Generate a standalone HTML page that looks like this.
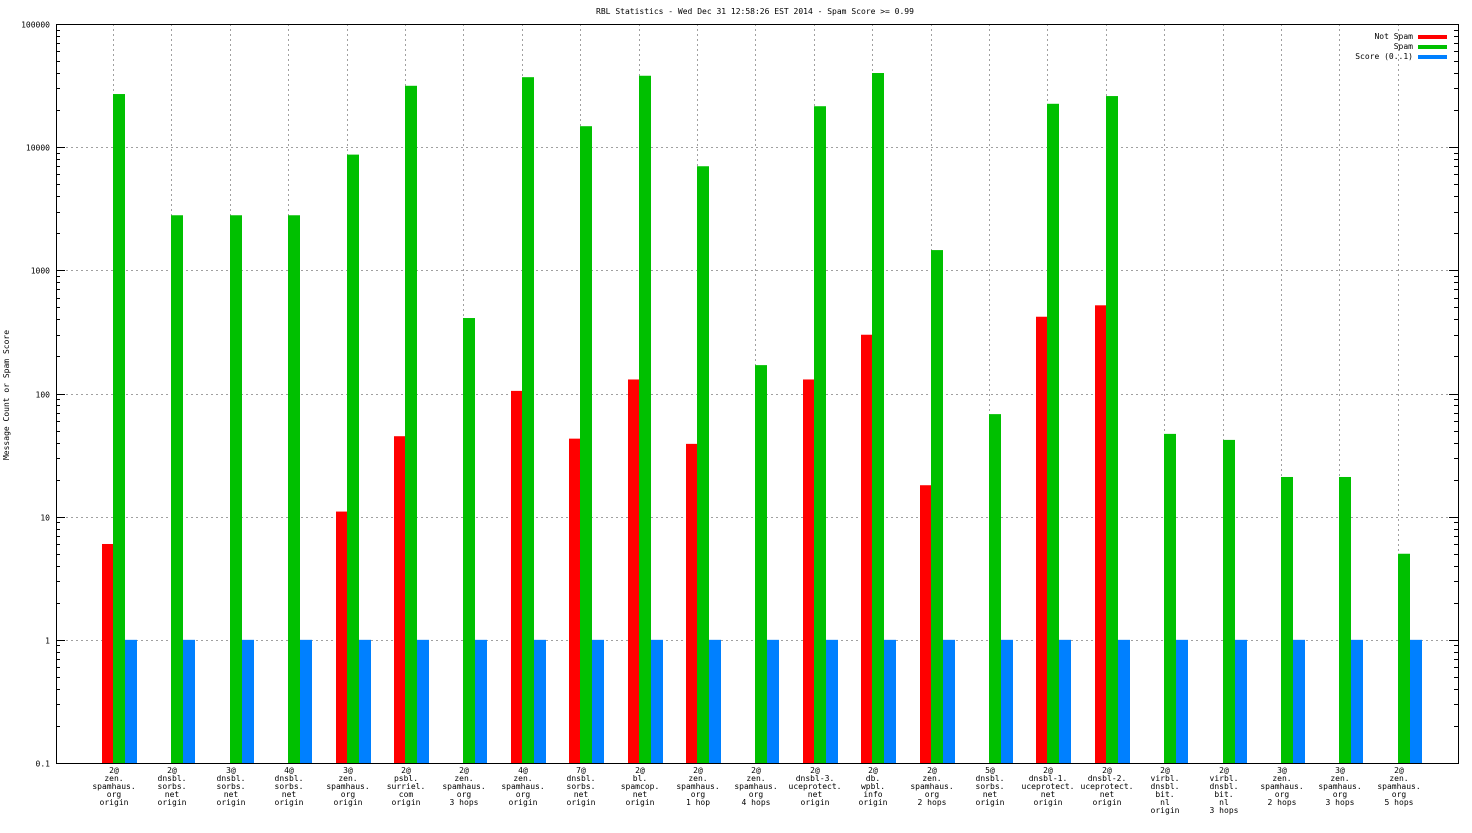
<!DOCTYPE html>
<html><head><meta charset="utf-8"><style>
html,body{margin:0;padding:0;background:#fff}
svg text{font-family:"DejaVu Sans Mono","Liberation Mono",monospace;font-size:8px;fill:#000}
</style></head><body>
<svg id="chart" width="1472" height="828" xmlns="http://www.w3.org/2000/svg">
<text x="755" y="14" text-anchor="middle">RBL Statistics - Wed Dec 31 12:58:26 EST 2014 - Spam Score &gt;= 0.99</text>
<text transform="translate(9,395) rotate(-90)" text-anchor="middle">Message Count or Spam Score</text>
<g id="grid"></g><g id="bars"></g><g id="axes"></g>
<g>
<text x="1413" y="39" text-anchor="end">Not Spam</text><rect x="1418" y="35" width="29" height="4" fill="#ff0000"/>
<text x="1413" y="49" text-anchor="end">Spam</text><rect x="1418" y="45" width="29" height="4" fill="#00c000"/>
<text x="1413" y="59" text-anchor="end">Score (0..1)</text><rect x="1418" y="55" width="29" height="4" fill="#0080ff"/>
</g>
</svg>
<script>
const categories=[
["2@","zen.","spamhaus.","org","origin"],["2@","dnsbl.","sorbs.","net","origin"],["3@","dnsbl.","sorbs.","net","origin"],["4@","dnsbl.","sorbs.","net","origin"],["3@","zen.","spamhaus.","org","origin"],["2@","psbl.","surriel.","com","origin"],["2@","zen.","spamhaus.","org","3 hops"],["4@","zen.","spamhaus.","org","origin"],["7@","dnsbl.","sorbs.","net","origin"],["2@","bl.","spamcop.","net","origin"],["2@","zen.","spamhaus.","org","1 hop"],["2@","zen.","spamhaus.","org","4 hops"],["2@","dnsbl-3.","uceprotect.","net","origin"],["2@","db.","wpbl.","info","origin"],["2@","zen.","spamhaus.","org","2 hops"],["5@","dnsbl.","sorbs.","net","origin"],["2@","dnsbl-1.","uceprotect.","net","origin"],["2@","dnsbl-2.","uceprotect.","net","origin"],["2@","virbl.","dnsbl.","bit.","nl","origin"],["2@","virbl.","dnsbl.","bit.","nl","3 hops"],["3@","zen.","spamhaus.","org","2 hops"],["3@","zen.","spamhaus.","org","3 hops"],["2@","zen.","spamhaus.","org","5 hops"]];
const notSpam=[6,0,0,0,11,45,0,105,43,130,39,0,130,300,18,0,420,520,0,0,0,0,0];
const spam=[27000,2800,2800,2800,8700,31500,410,37000,14800,38000,7000,170,21500,40000,1460,68,22500,26000,47,42,21,21,5];
const score=[1,1,1,1,1,1,1,1,1,1,1,1,1,1,1,1,1,1,1,1,1,1,1];
const yTicks=[0.1,1,10,100,1000,10000,100000];
const yTickLabels=["0.1","1","10","100","1000","10000","100000"];
const NS="http://www.w3.org/2000/svg";
const L=56,R=1458,T=24,B=763;
const yMin=-1,yMax=5;
function y(v){return B-(Math.log10(v)-yMin)/(yMax-yMin)*(B-T);}
function x(i){return 113+i*58.4;}
function mk(tag,attrs,parent){const e=document.createElementNS(NS,tag);for(const k in attrs)e.setAttribute(k,attrs[k]);parent.appendChild(e);return e;}
const grid=document.getElementById('grid'),bars=document.getElementById('bars'),axes=document.getElementById('axes');
yTicks.forEach((t,k)=>{
  const yy=Math.round(y(t))+0.5;
  if(t>0.1&&t<100000){const g=mk('line',{x1:L,x2:R,y1:yy,y2:yy,stroke:'#a0a0a0','stroke-dasharray':'2,3'},grid);
  
  }
  const tk=mk('line',{x1:L,x2:L+9,y1:yy,y2:yy,stroke:'#000'},axes);
  
  
  const tr=mk('line',{x1:R-9,x2:R,y1:yy,y2:yy,stroke:'#000'},axes);
  
  
  const lb=mk('text',{x:L-6,y:yy+3,'text-anchor':'end'},axes);lb.textContent=yTickLabels[k];
  
  
  if(t<100000){for(let m=2;m<10;m++){const my=Math.round(y(t*m))+0.5;
    const mt=mk('line',{x1:L,x2:L+4,y1:my,y2:my,stroke:'#000'},axes);
    
    
    const mr=mk('line',{x1:R-4,x2:R,y1:my,y2:my,stroke:'#000'},axes);
    
    }}
});
categories.forEach((c,i)=>{
  const cx=Math.round(x(i));
  const g=mk('line',{x1:cx+0.5,x2:cx+0.5,y1:T,y2:B,stroke:'#a0a0a0','stroke-dasharray':'2,3'},grid);
  
  
  const series=[[notSpam,'#ff0000',-11,'bar-not-spam'],[spam,'#00c000',0,'bar-spam'],[score,'#0080ff',12,'bar-score']];
  series.forEach(s=>{const v=s[0][i];if(v>0){const top=y(v);
    const r=mk('rect',{x:cx+s[2],y:top,width:12,height:B-top,fill:s[1]},bars);
    
    }});
  const t=mk('text',{x:cx+1,'text-anchor':'middle'},axes);
  
  
  c.forEach((line,j)=>{const ts=mk('tspan',{x:cx+1,y:773+j*8},t);ts.textContent=line;});
});
const frame=mk('rect',{x:L+0.5,y:T+0.5,width:R-L,height:B-T,fill:'none',stroke:'#000'},axes);


</script>
</body></html>
